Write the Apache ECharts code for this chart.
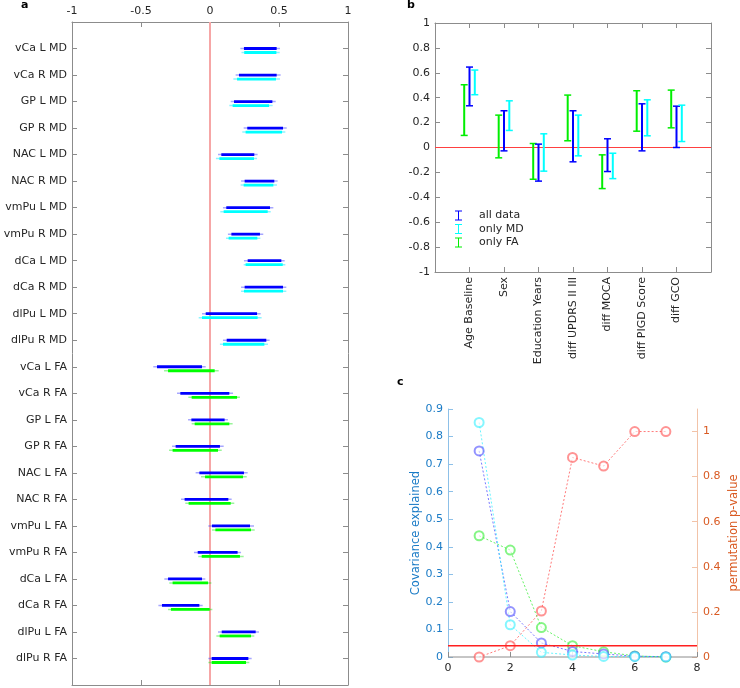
<!DOCTYPE html>
<html><head><meta charset="utf-8">
<script src="https://cdn.jsdelivr.net/npm/echarts@6/dist/echarts.min.js"></script>
<style>html,body{margin:0;padding:0;background:#fff}#c{width:740px;height:688px}</style>
</head><body><div id="c"></div>
<script>
// ---------- Panel a ----------
const regions = ['vCa L MD','vCa R MD','GP L MD','GP R MD','NAC L MD','NAC R MD','vmPu L MD','vmPu R MD','dCa L MD','dCa R MD','dlPu L MD','dlPu R MD',
  'vCa L FA','vCa R FA','GP L FA','GP R FA','NAC L FA','NAC R FA','vmPu L FA','vmPu R FA','dCa L FA','dCa R FA','dlPu L FA','dlPu R FA'];
// all data: [thin lo, thick lo, thick hi, thin hi]
const allRanges = [
  [0.220,0.246,0.483,0.507],[0.186,0.210,0.483,0.512],[0.150,0.174,0.452,0.476],[0.244,0.270,0.529,0.556],
  [0.058,0.082,0.321,0.345],[0.225,0.251,0.466,0.490],[0.094,0.118,0.435,0.459],[0.130,0.155,0.362,0.386],
  [0.246,0.273,0.517,0.541],[0.225,0.251,0.529,0.553],[-0.058,-0.031,0.341,0.367],[0.094,0.121,0.408,0.432],
  [-0.411,-0.384,-0.058,-0.031],[-0.239,-0.215,0.140,0.167],[-0.159,-0.135,0.106,0.130],[-0.275,-0.249,0.072,0.099],
  [-0.104,-0.077,0.246,0.273],[-0.210,-0.184,0.133,0.157],[-0.012,0.014,0.290,0.319],[-0.116,-0.089,0.200,0.225],
  [-0.331,-0.304,-0.058,-0.034],[-0.374,-0.348,-0.077,-0.053],[0.058,0.085,0.331,0.355],[-0.012,0.012,0.278,0.302]
];
// only MD (rows 1-12)
const mdRanges = [
  [0.228,0.248,0.481,0.505],[0.169,0.196,0.478,0.507],[0.140,0.164,0.428,0.454],[0.234,0.258,0.522,0.546],
  [0.043,0.068,0.319,0.341],[0.222,0.244,0.459,0.485],[0.075,0.099,0.418,0.440],[0.116,0.135,0.343,0.365],
  [0.244,0.258,0.527,0.546],[0.225,0.246,0.529,0.553],[-0.082,-0.058,0.345,0.374],[0.072,0.094,0.394,0.420]
];
// only FA (rows 13-24)
const faRanges = [
  [-0.333,-0.304,0.034,0.063],[-0.157,-0.133,0.196,0.217],[-0.133,-0.111,0.140,0.164],[-0.297,-0.271,0.058,0.085],
  [-0.065,-0.036,0.239,0.266],[-0.179,-0.155,0.150,0.176],[0.014,0.039,0.297,0.324],[-0.085,-0.060,0.217,0.244],
  [-0.295,-0.271,-0.014,0.010],[-0.304,-0.283,-0.002,0.017],[0.046,0.070,0.297,0.321],[-0.012,0.012,0.261,0.285]
];

// ---------- Panel b ----------
const clinical = ['Age Baseline','Sex','Education Years','diff UPDRS II III','diff MOCA','diff PIGD Score','diff GCO'];
const bAll = [[0.335,0.646],[-0.027,0.295],[-0.270,0.027],[-0.115,0.295],[-0.193,0.070],[-0.027,0.351],[0.000,0.332]];
const bMD  = [[0.424,0.622],[0.137,0.375],[-0.190,0.110],[-0.067,0.260],[-0.250,-0.046],[0.094,0.383],[0.048,0.340]];
const bFA  = [[0.097,0.504],[-0.083,0.260],[-0.255,0.032],[0.054,0.421],[-0.330,-0.059],[0.131,0.456],[0.158,0.461]];

// ---------- Panel c ----------
const components = [1,2,3,4,5,6,7];
const covAll = [0.748,0.165,0.051,0.020,0.011,0.003,0.001];
const covMD  = [0.851,0.117,0.017,0.007,0.002,0.001,0.000];
const covFA  = [0.440,0.388,0.107,0.041,0.019,0.004,0.000];
const pValue = [0.000,0.050,0.204,0.885,0.847,1.000,1.000];
const pThreshold = 0.05;
const pTicks = [0, 0.2, 0.4, 0.6, 0.8, 1];

const FONT = 'DejaVu Sans';
const TXT = '#262626';
const AX = '#8c8c8c';

function rangeRender(color, thin, dy) {
  return function (params, api) {
    const r = api.value(4);
    const a = api.coord([api.value(0), r]);
    const b = api.coord([api.value(3), r]);
    const c = api.coord([api.value(1), r]);
    const d = api.coord([api.value(2), r]);
    const y = a[1] + dy;
    return { type: 'group', children: [
      { type: 'line', shape: { x1: a[0], y1: y, x2: b[0], y2: y }, style: { stroke: thin, lineWidth: 1.5 } },
      { type: 'line', shape: { x1: c[0], y1: y, x2: d[0], y2: y }, style: { stroke: color, lineWidth: 2.8 } }
    ]};
  };
}
function ebRender(color, dx) {
  return function (params, api) {
    const lo = api.coord([api.value(0), api.value(1)]);
    const hi = api.coord([api.value(0), api.value(2)]);
    const x = lo[0] + dx, h = 3.5;
    return { type: 'group', children: [
      { type: 'line', shape: { x1: x, y1: lo[1], x2: x, y2: hi[1] }, style: { stroke: color, lineWidth: 2 } },
      { type: 'line', shape: { x1: x - h, y1: lo[1], x2: x + h, y2: lo[1] }, style: { stroke: color, lineWidth: 1.5 } },
      { type: 'line', shape: { x1: x - h, y1: hi[1], x2: x + h, y2: hi[1] }, style: { stroke: color, lineWidth: 1.5 } }
    ]};
  };
}
// reference line across the grid: vertical (x value) or horizontal (y value)
function refRender(dir, color, width) {
  return function (params, api) {
    const cs = params.coordSys;
    const v = api.value(0);
    if (dir === 'v') {
      const x = api.coord([v, 0])[0];
      return { type: 'line', shape: { x1: x, y1: cs.y, x2: x, y2: cs.y + cs.height }, style: { stroke: color, lineWidth: width } };
    }
    const y = api.coord([0, v])[1];
    return { type: 'line', shape: { x1: cs.x, y1: y, x2: cs.x + cs.width, y2: y }, style: { stroke: color, lineWidth: width } };
  };
}

const aAll = allRanges.map((v, i) => v.concat([i + 1]));
const aMD = mdRanges.map((v, i) => v.concat([i + 1]));
const aFA = faRanges.map((v, i) => v.concat([i + 13]));
const bAllD = bAll.map((v, i) => [i + 1, v[0], v[1]]);
const bMDD = bMD.map((v, i) => [i + 1, v[0], v[1]]);
const bFAD = bFA.map((v, i) => [i + 1, v[0], v[1]]);

const lbl = () => ({ fontFamily: FONT, fontSize: 11, color: TXT });
const axLine = (c) => ({ show: true, onZero: false, lineStyle: { color: c || AX, width: 1 } });
const tickIn = (c) => ({ show: true, inside: true, length: 5, lineStyle: { color: c || AX, width: 1 } });

const ibeam = 'path://M0,0H7V1H4V9H7V10H0V9H3V1H0Z';

const option = {
  animation: false,
  backgroundColor: '#fff',
  textStyle: { fontFamily: FONT },
  grid: [
    { left: 72, top: 22, width: 276, height: 663, containLabel: false, outerBoundsMode: 'none' },
    { left: 435, top: 23, width: 276, height: 249, containLabel: false, outerBoundsMode: 'none' },
    { left: 448, top: 409, width: 249, height: 248, containLabel: false, outerBoundsMode: 'none' }
  ],
  xAxis: [
    { gridIndex: 0, type: 'value', position: 'top', min: -1, max: 1, interval: 0.5, axisLine: axLine(), axisTick: tickIn(),
      axisLabel: Object.assign({ margin: 5 }, lbl()), splitLine: { show: false } },
    { gridIndex: 0, type: 'value', position: 'bottom', min: -1, max: 1, interval: 0.5, axisLine: axLine(), axisTick: tickIn(),
      axisLabel: { show: false }, splitLine: { show: false } },
    { gridIndex: 1, type: 'value', position: 'bottom', min: 0, max: 8, interval: 1, axisLine: axLine(), axisTick: tickIn(),
      axisLabel: Object.assign({ margin: 5, rotate: 90, formatter: v => (v >= 1 && v <= 7) ? clinical[v - 1] : '' }, lbl()),
      splitLine: { show: false } },
    { gridIndex: 1, type: 'value', position: 'top', min: 0, max: 8, interval: 1, axisLine: axLine(), axisTick: tickIn(),
      axisLabel: { show: false }, splitLine: { show: false } },
    { gridIndex: 2, type: 'value', position: 'bottom', min: 0, max: 8, interval: 2,
      axisLine: { show: false, onZero: false }, axisTick: tickIn(),
      axisLabel: Object.assign({ margin: 6 }, lbl()), splitLine: { show: false } }
  ],
  yAxis: [
    { gridIndex: 0, type: 'value', position: 'left', min: 0, max: 25, interval: 1, inverse: true, axisLine: axLine(), axisTick: tickIn(),
      axisLabel: Object.assign({ margin: 5, formatter: v => (v >= 1 && v <= 24) ? regions[v - 1] : '' }, lbl()), splitLine: { show: false } },
    { gridIndex: 0, type: 'value', position: 'right', min: 0, max: 25, interval: 1, inverse: true, axisLine: axLine(), axisTick: tickIn(),
      axisLabel: { show: false }, splitLine: { show: false } },
    { gridIndex: 1, type: 'value', position: 'left', min: -1, max: 1, interval: 0.2, axisLine: axLine(), axisTick: tickIn(),
      axisLabel: Object.assign({ margin: 5 }, lbl()), splitLine: { show: false } },
    { gridIndex: 1, type: 'value', position: 'right', min: -1, max: 1, interval: 0.2, axisLine: axLine(), axisTick: tickIn(),
      axisLabel: { show: false }, splitLine: { show: false } },
    { gridIndex: 2, type: 'value', position: 'left', min: 0, max: 0.9, interval: 0.1,
      axisLine: axLine('#8dc0e8'), axisTick: tickIn('#8dc0e8'),
      axisLabel: { margin: 5, fontFamily: FONT, fontSize: 11, color: '#1a7bc6' }, splitLine: { show: false },
      name: 'Covariance explained', nameLocation: 'middle', nameGap: 26, nameRotate: 90,
      nameTextStyle: { fontFamily: FONT, fontSize: 11.5, color: '#1a7bc6' } },
    { gridIndex: 2, type: 'value', position: 'right', min: 0, max: 1.1, interval: 0.2,
      axisLine: axLine('#f2c3a8'),
      axisTick: Object.assign(tickIn('#f2c3a8'), { customValues: pTicks }),
      axisLabel: { margin: 6, fontFamily: FONT, fontSize: 11, color: '#d95a22', customValues: pTicks,
        formatter: v => v > 1.01 ? '' : String(Math.round(v * 10) / 10) }, splitLine: { show: false },
      name: 'permutation p-value', nameLocation: 'middle', nameGap: 31, nameRotate: 90,
      nameTextStyle: { fontFamily: FONT, fontSize: 11.5, color: '#d95a22' } }
  ],
  legend: {
    left: 455, top: 210, orient: 'vertical', padding: 0, itemGap: 2.5, itemWidth: 7, itemHeight: 10,
    selectedMode: false,
    textStyle: { fontFamily: FONT, fontSize: 11, color: TXT, padding: [0, 0, 0, 12], lineHeight: 10 },
    data: [
      { name: 'all data', icon: ibeam },
      { name: 'only MD', icon: ibeam },
      { name: 'only FA', icon: ibeam }
    ]
  },
  graphic: [
    { type: 'text', left: 21, top: 0, style: { text: 'a', font: 'bold 11px DejaVu Sans', fill: '#000' } },
    { type: 'text', left: 407, top: 0, style: { text: 'b', font: 'bold 11px DejaVu Sans', fill: '#000' } },
    { type: 'text', left: 397, top: 377, style: { text: 'c', font: 'bold 11px DejaVu Sans', fill: '#000' } }
  ],
  series: [
    // panel a zero line
    { name: 'zero a', type: 'custom', xAxisIndex: 0, yAxisIndex: 0, data: [[0]], silent: true, z: 1,
      encode: { x: 0 }, renderItem: refRender('v', '#f6a6a6', 2) },
    { name: 'a all', type: 'custom', xAxisIndex: 0, yAxisIndex: 0, data: aAll, encode: { x: [0, 3], y: 4 },
      renderItem: rangeRender('#0000ff', 'rgba(60,60,255,0.45)', 0) },
    { name: 'a md', type: 'custom', xAxisIndex: 0, yAxisIndex: 0, data: aMD, encode: { x: [0, 3], y: 4 },
      renderItem: rangeRender('#00ffff', 'rgba(0,230,255,0.45)', 4) },
    { name: 'a fa', type: 'custom', xAxisIndex: 0, yAxisIndex: 0, data: aFA, encode: { x: [0, 3], y: 4 },
      renderItem: rangeRender('#00ff00', 'rgba(0,230,0,0.4)', 4) },
    // panel b zero line
    { name: 'zero b', type: 'custom', xAxisIndex: 2, yAxisIndex: 2, data: [[0]], silent: true, z: 1,
      encode: { y: 0 }, renderItem: refRender('h', '#ff4040', 1) },
    { name: 'only FA', type: 'custom', xAxisIndex: 2, yAxisIndex: 2, data: bFAD, encode: { x: 0, y: [1, 2] },
      itemStyle: { color: '#00ee00' }, renderItem: ebRender('#00ee00', -5.3) },
    { name: 'all data', type: 'custom', xAxisIndex: 2, yAxisIndex: 2, data: bAllD, encode: { x: 0, y: [1, 2] },
      itemStyle: { color: '#0000ff' }, renderItem: ebRender('#0000ff', 0) },
    { name: 'only MD', type: 'custom', xAxisIndex: 2, yAxisIndex: 2, data: bMDD, encode: { x: 0, y: [1, 2] },
      itemStyle: { color: '#00ffff' }, renderItem: ebRender('#00ffff', 5.3) },
    // panel c bottom axis line (value 0 on the left axis)
    { name: 'baseline c', type: 'custom', xAxisIndex: 4, yAxisIndex: 4, data: [[0]], silent: true, z: 1,
      encode: { y: 0 }, renderItem: refRender('h', AX, 1) },
    // panel c
    { name: 'c fa', type: 'line', xAxisIndex: 4, yAxisIndex: 4, data: components.map((c, i) => [c, covFA[i]]),
      symbol: 'emptyCircle', symbolSize: 9, lineStyle: { color: '#33ee33', width: 1, type: [2, 2], opacity: 0.75 },
      itemStyle: { color: '#33ee33', borderWidth: 1, opacity: 0.6 } },
    { name: 'c all', type: 'line', xAxisIndex: 4, yAxisIndex: 4, data: components.map((c, i) => [c, covAll[i]]),
      symbol: 'emptyCircle', symbolSize: 9, lineStyle: { color: '#4b4bff', width: 1, type: [2, 2], opacity: 0.75 },
      itemStyle: { color: '#4b4bff', borderWidth: 1, opacity: 0.6 } },
    { name: 'c md', type: 'line', xAxisIndex: 4, yAxisIndex: 4, data: components.map((c, i) => [c, covMD[i]]),
      symbol: 'emptyCircle', symbolSize: 9, lineStyle: { color: '#33f0ff', width: 1, type: [2, 2], opacity: 0.75 },
      itemStyle: { color: '#33f0ff', borderWidth: 1, opacity: 0.6 } },
    { name: 'c p', type: 'line', xAxisIndex: 4, yAxisIndex: 5, data: components.map((c, i) => [c, pValue[i]]),
      symbol: 'emptyCircle', symbolSize: 9, lineStyle: { color: '#ff4d4d', width: 1, type: [2, 2], opacity: 0.75 },
      itemStyle: { color: '#ff4d4d', borderWidth: 1, opacity: 0.6 } },
    // panel c threshold line (on top)
    { name: 'threshold', type: 'custom', xAxisIndex: 4, yAxisIndex: 5, data: [[pThreshold]], silent: true, z: 10,
      encode: { y: 0 }, renderItem: refRender('h', '#ff2020', 1.5) }
  ]
};
const chart = echarts.init(document.getElementById('c'), null, { renderer: 'canvas' });
chart.setOption(option);
</script>
</body></html>
